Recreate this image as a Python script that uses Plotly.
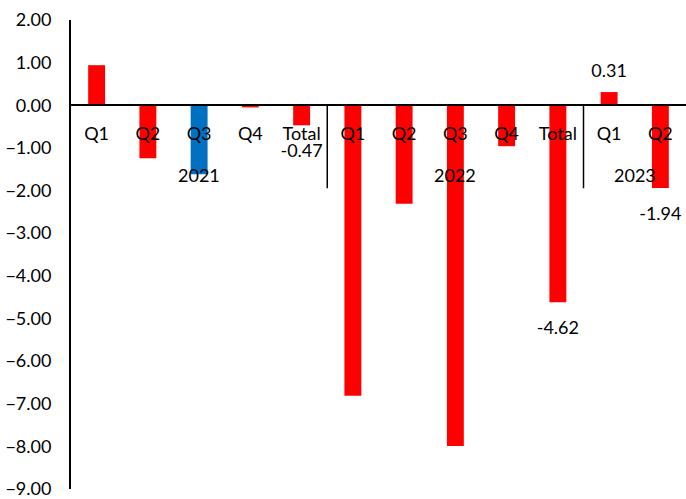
import plotly.graph_objects as go

years = ["2021"] * 5 + ["2022"] * 5 + ["2023"] * 2
quarters = ["Q1", "Q2", "Q3", "Q4", "Total", "Q1", "Q2", "Q3", "Q4", "Total", "Q1", "Q2"]
values = [0.94, -1.24, -1.62, -0.05, -0.47, -6.81, -2.31, -7.99, -0.96, -4.62, 0.31, -1.94]
bar_colors = ["#FF0000", "#FF0000", "#0070C0", "#FF0000", "#FF0000", "#FF0000",
              "#FF0000", "#FF0000", "#FF0000", "#FF0000", "#FF0000", "#FF0000"]
labels = ["", "", "", "", "-0.47", "", "", "", "", "-4.62", "0.31", "-1.94"]
y_min, y_max = -9, 2

FONT = "Lato"
idx = list(range(len(values)))

fig = go.Figure()
fig.add_trace(go.Bar(
    x=idx, y=values,
    marker=dict(color=bar_colors, line=dict(width=0)),
    width=0.33, showlegend=False, hoverinfo="skip",
))
fig.add_trace(go.Scatter(
    x=idx, y=values, mode="markers+text",
    text=labels,
    textposition=["top center" if v >= 0 else "bottom center" for v in values],
    marker=dict(size=[16 if v >= 0 else 28 for v in values],
                color="rgba(0,0,0,0)", line=dict(width=0)),
    textfont=dict(family=FONT, size=18, color="black"),
    showlegend=False, hoverinfo="skip", cliponaxis=False,
))

# year group labels and dividers
groups = []
for i, yr in enumerate(years):
    if not groups or groups[-1][0] != yr:
        groups.append([yr, i, i])
    else:
        groups[-1][2] = i
for gi, (yr, a, b) in enumerate(groups):
    fig.add_annotation(
        x=(a + b) / 2, y=0, xref="x", yref="y", text=yr, showarrow=False,
        yshift=-70, yanchor="middle", font=dict(family=FONT, size=18, color="black"),
    )
    if gi > 0:
        fig.add_shape(
            type="line", xref="x", yref="y", x0=a - 0.5, x1=a - 0.5,
            ysizemode="pixel", yanchor=0, y0=0, y1=-83,
            line=dict(color="black", width=1.5),
        )

fig.update_layout(
    width=686, height=499,
    margin=dict(l=71, r=0, t=20, b=6),
    paper_bgcolor="white", plot_bgcolor="white",
    font=dict(family=FONT, size=18, color="black"),
)
fig.update_xaxes(
    anchor="free", position=(0 - y_min) / (y_max - y_min),
    range=[-0.5, len(values) - 0.5], autorange=False,
    tickvals=idx, ticktext=quarters,
    showline=True, linecolor="black", linewidth=2,
    showgrid=False, zeroline=False, ticks="", ticklabelstandoff=12,
    tickfont=dict(family=FONT, size=18, color="black"),
)
fig.update_yaxes(
    range=[y_min, y_max], autorange=False, dtick=1, tickformat=".2f",
    showline=True, linecolor="black", linewidth=2,
    showgrid=False, zeroline=False, ticks="",
    ticklabelstandoff=14, ticklabeloverflow="allow",
    tickfont=dict(family=FONT, size=18, color="black"),
)

fig.write_html("out.html")
